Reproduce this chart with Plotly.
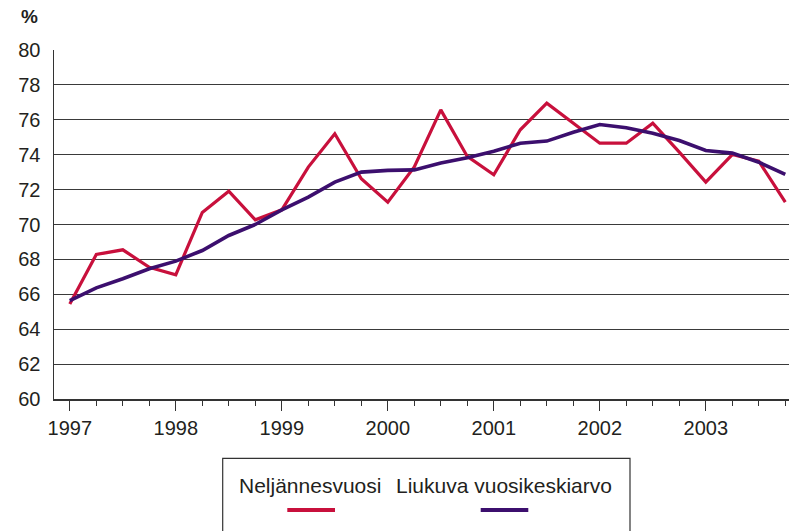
import plotly.graph_objects as go

# ---- data ----
years = [1997, 1998, 1999, 2000, 2001, 2002, 2003]
quarters = [0.0, 0.25, 0.5, 0.75]
x_vals = [y + q for y in years for q in quarters]

neljannesvuosi = [65.45, 68.28, 68.55, 67.55,
                  67.12, 70.69, 71.91, 70.27,
                  70.84, 73.29, 75.20, 72.62,
                  71.28, 73.30, 76.57, 73.90,
                  72.85, 75.43, 76.95, 75.81,
                  74.66, 74.66, 75.81, 74.15,
                  72.43, 74.01, 73.63, 71.28]

liukuva = [65.64, 66.37, 66.89, 67.46,
           67.90, 68.51, 69.37, 70.00,
           70.84, 71.57, 72.43, 73.00,
           73.10, 73.13, 73.52, 73.82,
           74.20, 74.66, 74.78, 75.29,
           75.73, 75.54, 75.23, 74.81,
           74.24, 74.09, 73.57, 72.87]

series_names = ["Neljännesvuosi", "Liukuva vuosikeskiarvo"]
colors = ["#C8103C", "#3C0F6E"]
y_ticks = list(range(60, 81, 2))
year_labels = [str(y) for y in years]

# ---- layout geometry ----
W, H = 789, 531
ML, MR, MT, MB = 54, 0, 50, 132
PW, PH = W - ML - MR, H - MT - MB


def px(xp):
    return (xp - ML) / PW


def py(yp):
    return (H - MB - yp) / PH


FONT = "Liberation Sans, Arial, sans-serif"
TXT = "#231f20"

fig = go.Figure()
fig.add_trace(go.Scatter(x=x_vals, y=neljannesvuosi, mode="lines",
                         name=series_names[0],
                         line=dict(color=colors[0], width=3.2)))
fig.add_trace(go.Scatter(x=x_vals, y=liukuva, mode="lines",
                         name=series_names[1],
                         line=dict(color=colors[1], width=3.6)))

fig.update_layout(
    width=W, height=H,
    margin=dict(l=ML, r=MR, t=MT, b=MB, pad=0),
    paper_bgcolor="white", plot_bgcolor="white",
    showlegend=False,
    font=dict(family=FONT, size=20, color=TXT),
)

fig.update_xaxes(
    range=[1996.851, 2003.785],
    tickmode="array", tickvals=years, ticktext=year_labels,
    ticks="outside", ticklen=10, tickwidth=1.2, tickcolor="#333",
    minor=dict(ticks="outside", ticklen=5, tickwidth=1.2, tickcolor="#333",
               tickmode="linear", tick0=1997, dtick=0.25, showgrid=False),
    showgrid=False, zeroline=False,
    showline=True, linecolor="#333", linewidth=2,
    tickfont=dict(size=20, family=FONT, color=TXT),
    fixedrange=True,
)
fig.update_yaxes(
    range=[60, 80], tickmode="array", tickvals=y_ticks,
    ticktext=[str(v) for v in y_ticks],
    ticks="", showgrid=True, gridcolor="#3a3a3a", gridwidth=1,
    zeroline=False, showline=True, linecolor="#333", linewidth=1.5,
    tickfont=dict(size=20, family=FONT, color=TXT),
    ticklabelstandoff=8,
    fixedrange=True,
)

# "%" unit label
fig.add_annotation(x=px(30), y=py(17), xref="paper", yref="paper",
                   text="<b>%</b>", showarrow=False,
                   font=dict(size=19, family=FONT, color=TXT),
                   xanchor="center", yanchor="middle")

# Legend box (Excel style: text above line sample)
fig.add_shape(type="rect", xref="paper", yref="paper",
              x0=px(222.7), x1=px(630), y0=py(458.3), y1=py(560),
              line=dict(color="#333", width=1.2), fillcolor="white",
              layer="above")
legend_centers = [310, 504]
legend_line_x = [(287.3, 335), (480.7, 528.3)]
for name, col, cx, (lx0, lx1) in zip(series_names, colors, legend_centers, legend_line_x):
    fig.add_annotation(x=px(cx), y=py(485), xref="paper", yref="paper",
                       text=name, showarrow=False,
                       font=dict(size=21, family=FONT, color=TXT),
                       xanchor="center", yanchor="middle")
    fig.add_shape(type="line", xref="paper", yref="paper",
                  x0=px(lx0), x1=px(lx1), y0=py(510), y1=py(510),
                  line=dict(color=col, width=4), layer="above")

fig.write_html(
    "out.html",
    config={"displayModeBar": False, "staticPlot": True},
    post_script="document.body.style.margin='0';document.body.style.overflow='hidden';",
)
